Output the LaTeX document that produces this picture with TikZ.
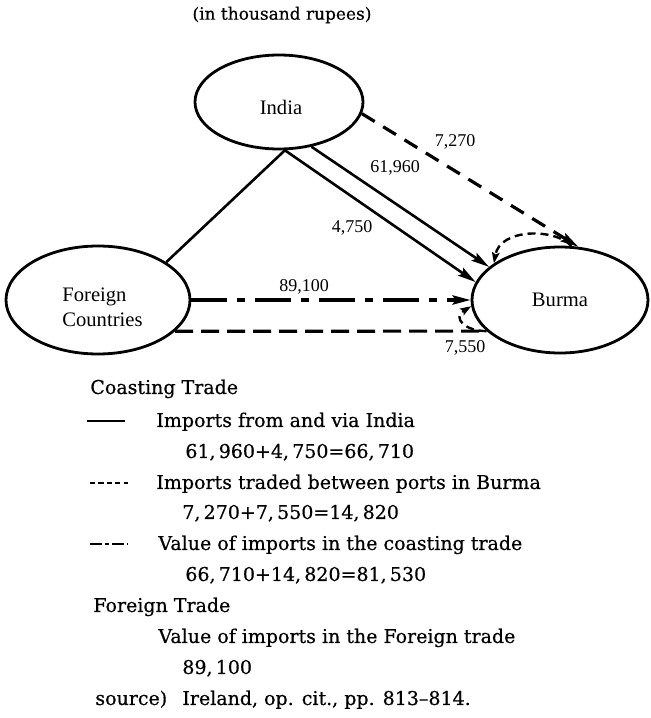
\documentclass[tikz,border=0pt]{standalone}
\usepackage{fontspec}
\setmainfont{Liberation Serif}
\newfontfamily\legfont[FakeBold=0.5]{DejaVu Serif}
\usetikzlibrary{arrows.meta,shapes.geometric}
\begin{document}
\begin{tikzpicture}[x=0.5pt,y=-0.5pt,
  place/.style={draw,ellipse,line width=1.4pt,inner sep=0pt},
  lab/.style={inner sep=0pt,font=\fontsize{10.3}{12.5}\selectfont},
  num/.style={inner sep=0pt,font=\fontsize{9}{11}\selectfont},
  leg/.style={anchor=west,inner sep=0pt,font=\legfont\fontsize{9.5}{11}\selectfont,text height=1.6ex,text depth=.3ex},
  solidc/.style={line width=1.3pt},
  bigtip/.style={-{Stealth[length=9pt,width=4.6pt,inset=1.5pt]}},
  smalltip/.style={-{Stealth[length=5.5pt,width=3.8pt,inset=1pt]}},
  dashA/.style={line width=1.6pt,dash pattern=on 7.5pt off 5pt},
  dashB/.style={line width=1.6pt,dash pattern=on 9pt off 4pt},
  dashC/.style={line width=1.2pt,dash pattern=on 4pt off 2.5pt},
  dashdot/.style={line width=1.6pt,dash pattern=on 18pt off 5pt on 4pt off 5pt},
  legline/.style={line width=0.9pt}
]
\useasboundingbox (0,0) rectangle (650,718);

% title
\node[inner sep=0pt,font=\legfont\fontsize{8.5}{10}\selectfont] (title) at (282,15) {(in thousand rupees)};

% places
\node[place,minimum width=84pt,minimum height=47pt] (india) at (279,102) {};
\node[place,minimum width=92pt,minimum height=54pt] (foreign) at (98,300) {};
\node[place,minimum width=88pt,minimum height=53pt] (burma) at (560,300) {};
\node[lab] (indiat) at (281,107) {India};
\node[lab,align=left,anchor=west] (foreignt) at (62,307) {Foreign\\Countries};
\node[lab] (burmat) at (560,300) {Burma};

% connectors
\draw[solidc] (india.-83) -- (foreign.29.6);
\draw[solidc,bigtip] (india.-83) -- (burma.168.7);
\draw[solidc,bigtip] (india.-54) -- (burma.155.7);
\draw[dashA,bigtip] (india.-8.8) -- (burma.71.2);
\draw[dashC,smalltip] (burma.78) .. controls (555,228) and (500,228) .. (burma.151.1);
\draw[dashdot,bigtip] (foreign.east) -- (burma.west);
\draw[dashB] (foreign.-22) -- (burma.-157.7);
\draw[dashC,smalltip] (burma.-157.7) .. controls (465,331) and (452,318) .. (burma.-176);

% numbers
\node[num] (n7270) at (455,142) {7,270};
\node[num] (n61960) at (395,168) {61,960};
\node[num] (n4750) at (352,228) {4,750};
\node[num] (n89100) at (304,287) {89,100};
\node[num] (n7550) at (465,348) {7,550};

% legend
\node[leg] (l1) at (90,388) {Coasting Trade};
\coordinate (s1a) at (87,421); \coordinate (s1b) at (125,421);
\draw[legline] (s1a) -- (s1b);
\node[leg] (l2) at (156,421) {Imports from and via India};
\node[leg] (l3) at (185,452) {61,\,960+4,\,750=66,\,710};
\coordinate (s2a) at (90,483); \coordinate (s2b) at (128,483);
\draw[legline,dash pattern=on 2.6pt off 1.6pt] (s2a) -- (s2b);
\node[leg] (l4) at (156,483) {Imports traded between ports in Burma};
\node[leg] (l5) at (182,513) {7,\,270+7,\,550=14,\,820};
\coordinate (s3a) at (90,544); \coordinate (s3b) at (128,544);
\draw[legline,dash pattern=on 6pt off 1.5pt on 2pt off 1.5pt] (s3a) -- (s3b);
\node[leg] (l6) at (158,544) {Value of imports in the coasting trade};
\node[leg] (l7) at (185,575) {66,\,710+14,\,820=81,\,530};
\node[leg] (l8) at (93,606) {Foreign Trade};
\node[leg] (l9) at (158,637) {Value of imports in the Foreign trade};
\node[leg] (l10) at (182,668) {89,\,100};
\node[leg] (l11) at (95,699) {source)};
\node[leg] (l12) at (182,699) {Ireland, op. cit., pp. 813–814.};
\end{tikzpicture}
\end{document}
